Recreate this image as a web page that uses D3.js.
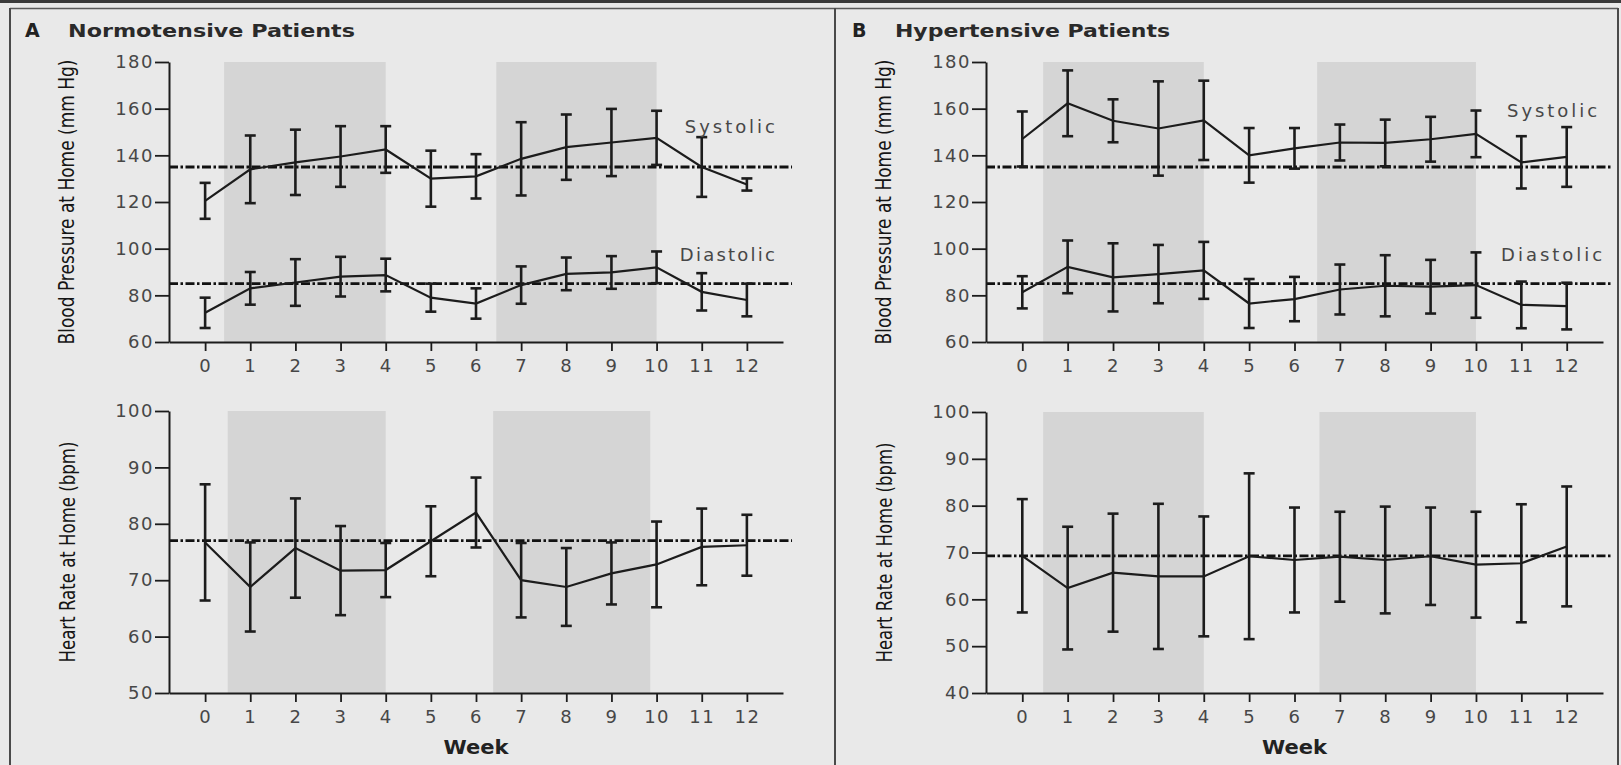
<!DOCTYPE html>
<html><head><meta charset="utf-8">
<script src="https://cdn.jsdelivr.net/npm/d3@7"></script>
<style>body{margin:0;background:#e9e9e9}svg{display:block}</style>
</head><body><svg id="c" width="1621" height="765"></svg>
<script>
// ---------- DATA ----------
const weeks = [0,1,2,3,4,5,6,7,8,9,10,11,12];

const normSysMean = [120.5,134,137,139.5,142.5,130,131,138.5,143.5,145.5,147.5,135,127.5];
const normSysSD   = [7.7,14.5,14,13,10,12,9.5,15.7,14,14.4,11.6,12.8,2.6];
const normDiaMean = [72.5,83,85.5,88,88.7,79,76.5,84.4,89.2,89.8,92,81.5,78];
const normDiaSD   = [6.5,7,10,8.5,7,6,6.5,8,7,7,6.8,8,7];
const normHrMean  = [76.7,68.8,75.7,71.7,71.8,76.9,82,70,68.8,71.2,72.8,75.9,76.2];
const normHrSD    = [10.3,7.9,8.8,7.9,4.8,6.2,6.2,6.6,6.9,5.5,7.6,6.8,5.4];

const hypSysMean  = [147,162.3,154.8,151.5,155,140,143,145.5,145.3,146.9,149.2,137,139.3];
const hypSysSD    = [11.8,14.1,9.2,20.2,17,11.7,8.7,7.7,10,9.6,10,11.2,12.8];
const hypDiaMean  = [81.3,92.2,87.7,89.1,90.7,76.5,78.4,82.5,84.1,83.7,84.4,75.9,75.4];
const hypDiaSD    = [6.9,11.3,14.6,12.5,12.2,10.5,9.5,10.7,13.1,11.5,14,10,10];
const hypHrMean   = [69.3,62.4,65.7,64.9,64.9,69.2,68.4,69.1,68.4,69.2,67.4,67.7,71.3];
const hypHrSD     = [12.1,13.1,12.6,15.5,12.8,17.7,11.2,9.6,11.4,10.4,11.3,12.6,12.8];

const bpTicks   = [60,80,100,120,140,160,180];
const hrTicksA  = [50,60,70,80,90,100];
const hrTicksB  = [40,50,60,70,80,90,100];

const normRefs  = [135, 85];   // systolic, diastolic thresholds
const normHrRef = [77];
const hypRefs   = [135, 85];
const hypHrRef  = [69.3];

const bandsATop = [[0.42,4],[6.45,10]];
const bandsABot = [[0.5,4],[6.38,9.86]];
const bandsBTop = [[0.46,4],[6.5,10]];
const bandsBBot = [[0.46,4],[6.55,10]];

const panelTitles = [["A","Normotensive Patients"],["B","Hypertensive Patients"]];
const bpLabel = "Blood Pressure at Home (mm Hg)";
const hrLabel = "Heart Rate at Home (bpm)";
const weekLabel = "Week";

// ---------- DRAWING ----------
const svg = d3.select("#c");
const W = 1621, H = 765;
const BG = "#e9e9e9", BAND = "#d5d5d5", INK = "#1c1c1c";
const tickFont = "'DejaVu Sans', sans-serif";
const narrowFont = "'Liberation Sans Narrow','DejaVu Sans Condensed','Arial Narrow',sans-serif";

svg.append("rect").attr("width", W).attr("height", H).attr("fill", BG);
// frame
svg.append("line").attr("x1",0).attr("x2",W).attr("y1",1.5).attr("y2",1.5).attr("stroke","#3a3a3a").attr("stroke-width",3);
svg.append("line").attr("x1",10).attr("x2",1618).attr("y1",8.5).attr("y2",8.5).attr("stroke","#5a5a5a").attr("stroke-width",1.5);
[10, 835, 1618].forEach(x => svg.append("line").attr("x1",x).attr("x2",x).attr("y1",8).attr("y2",H)
  .attr("stroke","#4a4a4a").attr("stroke-width",2));

function drawPlot(cfg) {
  const g = svg.append("g");
  const x = d3.scaleLinear().domain([-0.8, 12.8]).range([cfg.x0, cfg.x1]);
  const y = d3.scaleLinear().domain(cfg.yDomain).range([cfg.yBottom, cfg.yTop]);

  // shaded periods
  g.selectAll("rect.band").data(cfg.bands).join("rect")
    .attr("x", d => x(d[0])).attr("width", d => x(d[1]) - x(d[0]))
    .attr("y", y(cfg.yDomain[1])).attr("height", y(cfg.yDomain[0]) - y(cfg.yDomain[1]))
    .attr("fill", BAND);

  // reference lines
  g.selectAll("line.ref").data(cfg.refs).join("line")
    .attr("x1", x(-0.8)).attr("x2", x(13.0))
    .attr("y1", d => y(d)).attr("y2", d => y(d))
    .attr("stroke", "#111").attr("stroke-width", 2.8)
    .attr("stroke-dasharray", "9,2.5,2.5,2.5");

  // series
  const line = d3.line().x(d => x(d.w)).y(d => y(d.m));
  cfg.series.forEach(s => {
    const pts = weeks.map((w,i) => ({w, m: s.mean[i], sd: s.sd[i]}));
    g.append("path").datum(pts).attr("d", line)
      .attr("fill","none").attr("stroke",INK).attr("stroke-width",2.2);
    const eb = g.append("g").attr("stroke", INK).attr("stroke-width", 2.6);
    eb.selectAll("line.v").data(pts).join("line")
      .attr("x1", d => x(d.w)).attr("x2", d => x(d.w))
      .attr("y1", d => y(d.m + d.sd)).attr("y2", d => y(d.m - d.sd));
    eb.selectAll("line.t").data(pts).join("line")
      .attr("x1", d => x(d.w) - 5.5).attr("x2", d => x(d.w) + 5.5)
      .attr("y1", d => y(d.m + d.sd)).attr("y2", d => y(d.m + d.sd));
    eb.selectAll("line.b").data(pts).join("line")
      .attr("x1", d => x(d.w) - 5.5).attr("x2", d => x(d.w) + 5.5)
      .attr("y1", d => y(d.m - d.sd)).attr("y2", d => y(d.m - d.sd));
  });

  // axes
  const ya = g.append("g").attr("transform", `translate(${cfg.x0},0)`)
    .call(d3.axisLeft(y).tickValues(cfg.yTicks).tickSize(14).tickPadding(1).tickSizeOuter(0));
  const xa = g.append("g").attr("transform", `translate(0,${cfg.yBottom})`)
    .call(d3.axisBottom(x).tickValues(weeks).tickSize(9).tickPadding(8).tickSizeOuter(0));
  [ya, xa].forEach(a => {
    a.select(".domain").attr("stroke", INK).attr("stroke-width", 2);
    a.selectAll(".tick line").attr("stroke", INK).attr("stroke-width", 1.8);
    a.selectAll(".tick text").attr("fill", "#474747").attr("font-family", tickFont)
      .attr("font-size", 18).style("letter-spacing", "1.5px");
  });

  // y axis label
  const yc = (cfg.yTop + cfg.yBottom) / 2;
  g.append("text").attr("transform", `translate(${cfg.labelX},${yc}) rotate(-90)`)
    .attr("text-anchor","middle").attr("dominant-baseline","central")
    .attr("font-family", narrowFont).attr("font-size", 21).attr("fill", "#151515")
    .attr("textLength", cfg.labelLen).attr("lengthAdjust","spacingAndGlyphs")
    .text(cfg.label);

  // annotations
  (cfg.notes || []).forEach(n => {
    g.append("text").attr("x", x(n.w)).attr("y", y(n.v))
      .attr("text-anchor","end").attr("dominant-baseline","central")
      .attr("font-family", tickFont).attr("font-size", 18).attr("fill", "#474747")
      .attr("textLength", n.len).attr("lengthAdjust","spacing")
      .text(n.t);
  });

  if (cfg.week) {
    g.append("text").attr("x", (cfg.x0 + cfg.x1) / 2).attr("y", 747)
      .attr("text-anchor","middle").attr("dominant-baseline","central")
      .attr("font-family", tickFont).attr("font-weight","bold").attr("font-size", 19)
      .attr("fill","#222").attr("textLength", 65).attr("lengthAdjust","spacingAndGlyphs")
      .text(weekLabel);
  }
  return {x, y};
}

// Panel A
drawPlot({x0:169, x1:783, yTop:62, yBottom:342, yDomain:[60,180], yTicks:bpTicks,
  bands:bandsATop, refs:normRefs,
  series:[{mean:normSysMean, sd:normSysSD},{mean:normDiaMean, sd:normDiaSD}],
  label:bpLabel, labelX:67, labelLen:285,
  notes:[{t:"Systolic", w:12.62, v:152.5, len:90},{t:"Diastolic", w:12.62, v:97.3, len:95}]});
drawPlot({x0:169, x1:783, yTop:411, yBottom:693, yDomain:[50,100], yTicks:hrTicksA,
  bands:bandsABot, refs:normHrRef,
  series:[{mean:normHrMean, sd:normHrSD}],
  label:hrLabel, labelX:68, labelLen:221, week:true});

// Panel B
drawPlot({x0:986, x1:1603, yTop:62, yBottom:342, yDomain:[60,180], yTicks:bpTicks,
  bands:bandsBTop, refs:hypRefs,
  series:[{mean:hypSysMean, sd:hypSysSD},{mean:hypDiaMean, sd:hypDiaSD}],
  label:bpLabel, labelX:884, labelLen:285,
  notes:[{t:"Systolic", w:12.67, v:159.4, len:90},{t:"Diastolic", w:12.78, v:97.3, len:101}]});
drawPlot({x0:986, x1:1603, yTop:412, yBottom:693, yDomain:[40,100], yTicks:hrTicksB,
  bands:bandsBBot, refs:hypHrRef,
  series:[{mean:hypHrMean, sd:hypHrSD}],
  label:hrLabel, labelX:885, labelLen:220, week:true});

// titles
[[25,68,287],[852,895,275]].forEach((p,i) => {
  svg.append("text").attr("x", p[0]).attr("y", 37).attr("font-family", tickFont)
    .attr("font-weight","bold").attr("font-size", 19).attr("fill","#222").text(panelTitles[i][0]);
  svg.append("text").attr("x", p[1]).attr("y", 37).attr("font-family", tickFont)
    .attr("font-weight","bold").attr("font-size", 18).attr("fill","#2a2a2a")
    .attr("textLength", p[2]).attr("lengthAdjust","spacingAndGlyphs").text(panelTitles[i][1]);
});
</script></body></html>
